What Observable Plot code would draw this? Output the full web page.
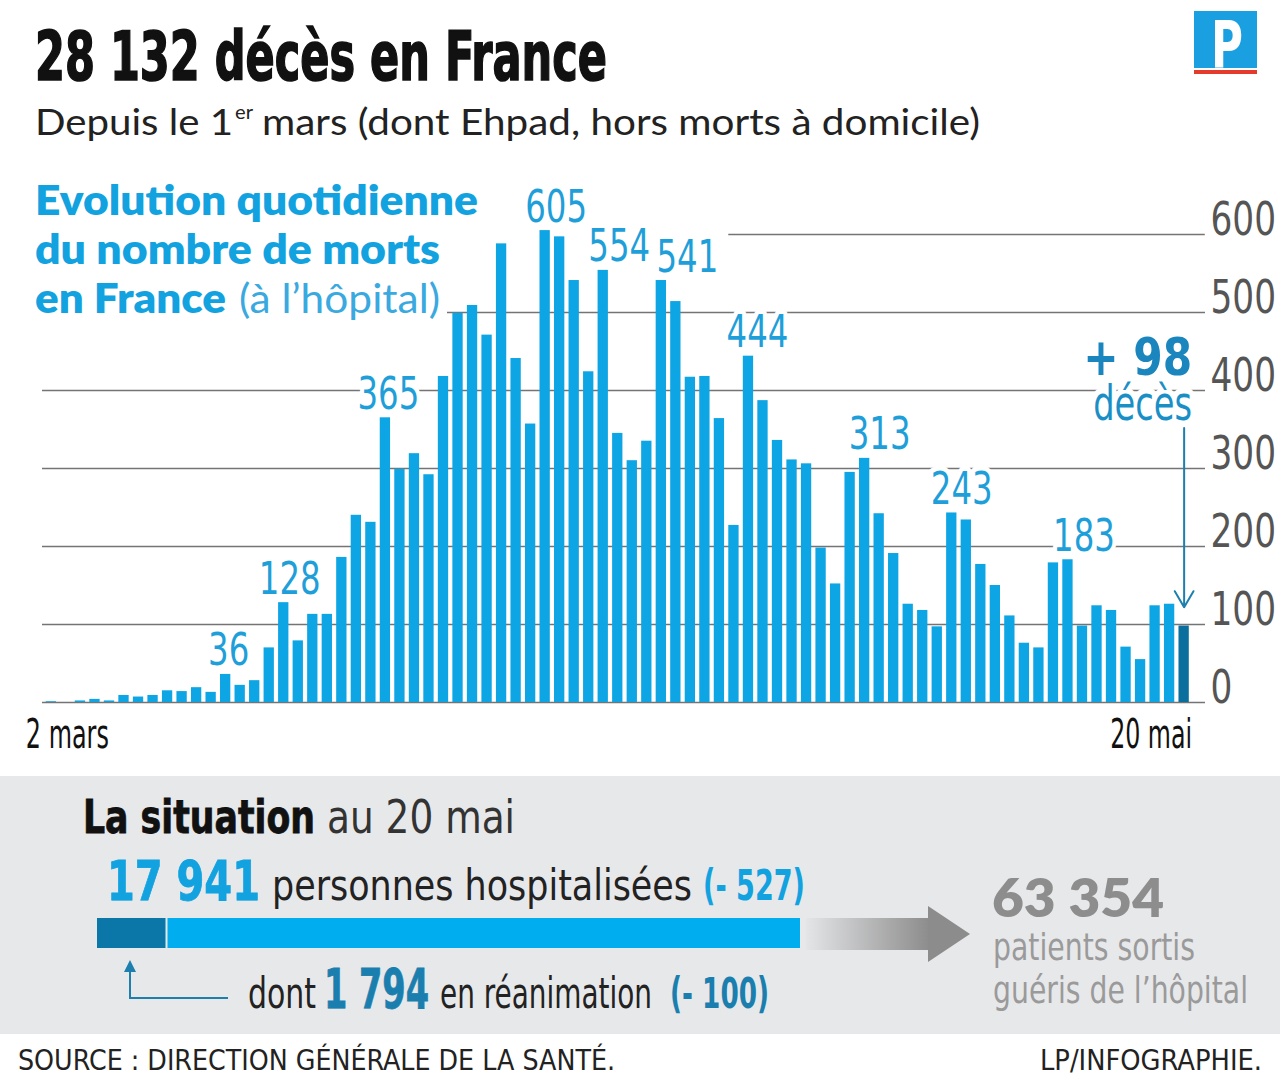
<!DOCTYPE html>
<html><head><meta charset="utf-8">
<script src="https://cdn.jsdelivr.net/npm/d3@7"></script>
<script src="https://cdn.jsdelivr.net/npm/@observablehq/plot@0.6"></script>
<style>
html,body{margin:0;padding:0;background:#fff;}
#page{position:relative;width:1280px;height:1079px;overflow:hidden;background:#fff;}
#panel{position:absolute;left:0;top:776px;width:1280px;height:258px;background:#e7e8ea;}
#chart{position:absolute;left:0;top:160px;}
#overlay{position:absolute;left:0;top:0;}
#hbar{position:absolute;left:97px;top:918px;}
</style></head>
<body><div id="page"><div id="panel"></div><div id="chart"></div><svg id="overlay" width="1280" height="1079"></svg><div id="hbar"></div></div>
<script>
// ---- DATA ----
const firstDay = "2020-03-02";
const lastDay = "2020-05-20";
const deaths = [0, 1, 0, 2, 4, 2, 9, 7, 9, 15, 14, 19, 13, 36, 22, 28, 70, 128, 79, 113,
  113, 186, 240, 231, 365, 299, 319, 292, 418, 499, 509, 471, 588, 441, 357, 605, 597, 541, 424, 554,
  345, 310, 335, 541, 514, 417, 418, 364, 227, 444, 387, 336, 311, 306, 198, 152, 295, 313, 242, 191,
  126, 118, 97, 243, 234, 177, 150, 111, 76, 70, 179, 183, 98, 124, 118, 71, 55, 124, 126, 98];
const labelledDays = ["2020-03-15","2020-03-19","2020-03-26","2020-04-06","2020-04-10","2020-04-14","2020-04-20","2020-04-28","2020-05-04","2020-05-12"];
const yTicks = [0, 100, 200, 300, 400, 500, 600];
const xTickLabels = ["2 mars", "20 mai"];
const hospitalises = 17941;
const reanimation = 1794;

// label placement (annotation layout, px to the right of the bar centre)
const labelNudge = [3, 6, 3, 11, 16, 26, 9, 15, 10, 16];

// ---- BUILD ----
const fmt = d3.utcFormat("%Y-%m-%d");
const days = d3.utcDay.range(new Date(firstDay), d3.utcDay.offset(new Date(lastDay), 1)).map(fmt);
const BLUE = "#0ea5e4", DARK = "#0a6f9c";
const data = days.map((day, i) => ({day, value: deaths[i], fill: day === lastDay ? DARK : BLUE}));
const labelData = data.filter(d => labelledDays.includes(d.day))
  .map(d => ({...d, nudge: labelNudge[labelledDays.indexOf(d.day)]}));
const last = data[data.length - 1];
const NARROW = "'Liberation Sans Narrow','Arial Narrow','DejaVu Sans Condensed',sans-serif";
const SANS = "Lato,'Open Sans',sans-serif";
const halo = {stroke: "white", paintOrder: "stroke", strokeLinejoin: "round"};

const labelMarks = Array.from(d3.group(labelData, d => d.nudge), ([nudge, rows]) =>
  Plot.text(rows, {x: "day", y: "value", text: d => String(d.value), dy: -9, dx: nudge, lineAnchor: "bottom",
    fontSize: 45, fontFamily: NARROW, fill: "#1f9fd9", strokeWidth: 10, ...halo}));

const chart = Plot.plot({
  width: 1280, height: 610,
  marginTop: 74, marginBottom: 68, marginLeft: 27, marginRight: 87,
  x: {type: "band", domain: days, paddingInner: 0.29, paddingOuter: 0.29, axis: null},
  y: {domain: [0, 600], axis: null},
  style: {background: "transparent", overflow: "visible"},
  marks: [
    Plot.ruleY(yTicks.filter(t => t < 600), {stroke: "#747474", strokeWidth: 1.5, insetLeft: 15, insetRight: -12}),
    Plot.ruleY([600], {x1: () => days[48], x2: () => days[79], stroke: "#747474", strokeWidth: 1.5, insetRight: -16}),
    Plot.barY(data, {x: "day", y: "value", fill: "fill"}),
    ...labelMarks,
    Plot.text([last], {x: "day", y: () => 420, text: d => `+ ${d.value}`, textAnchor: "end", dx: 8, lineAnchor: "bottom",
      fontSize: 51, fontWeight: 700, fontFamily: NARROW, fill: "#1a86bd", strokeWidth: 12, ...halo}),
    Plot.text([last], {x: "day", y: () => 362, text: () => "décès", textAnchor: "end", dx: 8, lineAnchor: "bottom",
      fontSize: 48, fontFamily: NARROW, fill: "#1a8fc6", strokeWidth: 12, ...halo}),
    Plot.text([data[0]], {x: "day", text: () => xTickLabels[0], frameAnchor: "bottom", lineAnchor: "top", dy: 17, dx: -11, textAnchor: "start",
      fontSize: 40, fontFamily: NARROW, fill: "#111"}),
    Plot.text([last], {x: "day", text: () => xTickLabels[1], frameAnchor: "bottom", lineAnchor: "top", dy: 17, dx: 8, textAnchor: "end",
      fontSize: 40, fontFamily: NARROW, fill: "#111"}),
    Plot.arrow([last], {x1: "day", x2: "day", y1: () => 352, y2: d => d.value + 24, stroke: "#1d7fae", strokeWidth: 2, headLength: 14}),
    Plot.axisY({anchor: "right", ticks: yTicks, tickSize: 0, tickPadding: 17, lineAnchor: "bottom", textAnchor: "start", label: null,
      fontSize: 46, fontFamily: NARROW, fill: "#555", color: "#555"})
  ]
});
document.getElementById("chart").appendChild(chart);

// condensed look for the chart's texts (installed fonts are wider than the original)
function squeeze(nodes, f) {
  nodes.forEach(t => {
    const L = t.getComputedTextLength();
    t.setAttribute("textLength", typeof f === "function" ? f(t, L) : L * f);
    t.setAttribute("lengthAdjust", "spacingAndGlyphs");
  });
}
const groups = Array.from(chart.querySelectorAll('g[aria-label="text"]'));
const nL = labelMarks.length;
groups.slice(0, nL).forEach(g => squeeze(g.querySelectorAll("text"), 0.8));
if (groups[nL]) squeeze(groups[nL].querySelectorAll("text"), () => 109);
if (groups[nL + 1]) squeeze(groups[nL + 1].querySelectorAll("text"), () => 99);
if (groups[nL + 2]) squeeze(groups[nL + 2].querySelectorAll("text"), () => 83);
if (groups[nL + 3]) squeeze(groups[nL + 3].querySelectorAll("text"), () => 82);
squeeze(chart.querySelectorAll('g[aria-label="y-axis tick label"] text'), 0.83);

// hospital bar
const hospParts = [
  {part: "réanimation", value: reanimation, fill: "#0a77a8"},
  {part: "autres", value: hospitalises - reanimation, fill: "#00aeef"}
];
const hbar = Plot.plot({
  width: 705, height: 30, margin: 0,
  x: {domain: [0, hospitalises], range: [0, 705], axis: null},
  y: {axis: null},
  style: {background: "transparent"},
  marks: [Plot.barX(hospParts, Plot.stackX({x: "value", fill: "fill", insetRight: 2}))]
});
document.getElementById("hbar").appendChild(hbar);

// ---- OVERLAY (titles, annotations) ----
const NS = "http://www.w3.org/2000/svg";
const ov = document.getElementById("overlay");
function el(tag, attrs, parent = ov) { const e = document.createElementNS(NS, tag); for (const k in attrs) e.setAttribute(k, attrs[k]); parent.appendChild(e); return e; }
function txt(s, x, y, w, size, weight, fill, family, extra = {}) {
  const t = el("text", {x, y, "font-size": size, "font-weight": weight, fill, "font-family": family, ...extra});
  t.textContent = s;
  if (w) { t.setAttribute("textLength", w); t.setAttribute("lengthAdjust", "spacingAndGlyphs"); }
  return t;
}
const defs = el("defs", {});
const grad = el("linearGradient", {id: "g", x1: "0", x2: "1", y1: "0", y2: "0"}, defs);
el("stop", {offset: "0", "stop-color": "#e4e5e7"}, grad);
el("stop", {offset: "1", "stop-color": "#8c8c8c"}, grad);

// header
txt("28 132 décès en France", 35, 80, 572, 68, 700, "#111", NARROW, {stroke: "#111", "stroke-width": 1.6});
txt("Depuis le 1", 35, 135, 198, 36, 400, "#222", SANS);
txt("er", 235, 119, 18, 20, 400, "#222", SANS);
txt("mars (dont Ehpad, hors morts à domicile)", 262, 135, 718, 36, 400, "#222", SANS);
// logo
el("rect", {x: 1194, y: 11, width: 63, height: 57, fill: "#1aa0e0"});
el("rect", {x: 1194, y: 70, width: 63, height: 4, fill: "#e53b2c"});
txt("P", 1211, 68, 32, 66, 700, "#fff", "'DejaVu Sans',sans-serif");

// chart heading on white
el("rect", {x: 25, y: 172, width: 422, height: 154, fill: "#fff"});
txt("Evolution quotidienne", 35, 215, 443, 41, 800, "#12a2e0", SANS);
txt("du nombre de morts", 35, 264, 405, 41, 800, "#12a2e0", SANS);
txt("en France", 35, 313, 191, 41, 800, "#12a2e0", SANS);
txt("(à l’hôpital)", 239, 313, 201, 41, 400, "#3aa9e0", SANS);

// bottom panel
txt("La situation", 83, 833, 232, 46, 700, "#111", NARROW, {stroke: "#111", "stroke-width": 0.8});
txt("au 20 mai", 327, 833, 188, 46, 400, "#333", NARROW);
txt("17 941", 107, 900, 153, 56, 700, "#12a2e0", NARROW, {stroke: "#12a2e0", "stroke-width": 0.8});
txt("personnes hospitalisées", 272, 900, 420, 42, 400, "#222", NARROW);
txt("(- 527)", 703, 900, 102, 42, 700, "#12a2e0", NARROW);
txt("dont", 248, 1008, 68, 42, 400, "#222", NARROW);
txt("1 794", 324, 1008, 105, 56, 700, "#1a7fae", NARROW, {stroke: "#1a7fae", "stroke-width": 0.8});
txt("en réanimation", 440, 1008, 212, 42, 400, "#222", NARROW);
txt("(- 100)", 670, 1008, 99, 42, 700, "#1a7fae", NARROW);
// connector
el("path", {d: "M228,998 H130 V968", fill: "none", stroke: "#1d7fae", "stroke-width": 2});
el("path", {d: "M124,972 L130,960 L136,972 Z", fill: "#1d7fae"});
// gray arrow
el("rect", {x: 806, y: 918, width: 124, height: 32, fill: "url(#g)"});
el("path", {d: "M928,906 L970,934 L928,962 Z", fill: "#8c8c8c"});
txt("63 354", 992, 917, 172, 52, 800, "#8d8d8d", SANS);
txt("patients sortis", 993, 960, 202, 38, 400, "#9a9a9a", NARROW);
txt("guéris de l’hôpital", 993, 1003, 255, 38, 400, "#9a9a9a", NARROW);

// footer
txt("SOURCE : DIRECTION GÉNÉRALE DE LA SANTÉ.", 18, 1070, 597, 28, 400, "#222", NARROW);
txt("LP/INFOGRAPHIE.", 1040, 1070, 222, 28, 400, "#222", NARROW);
</script>
</body></html>
